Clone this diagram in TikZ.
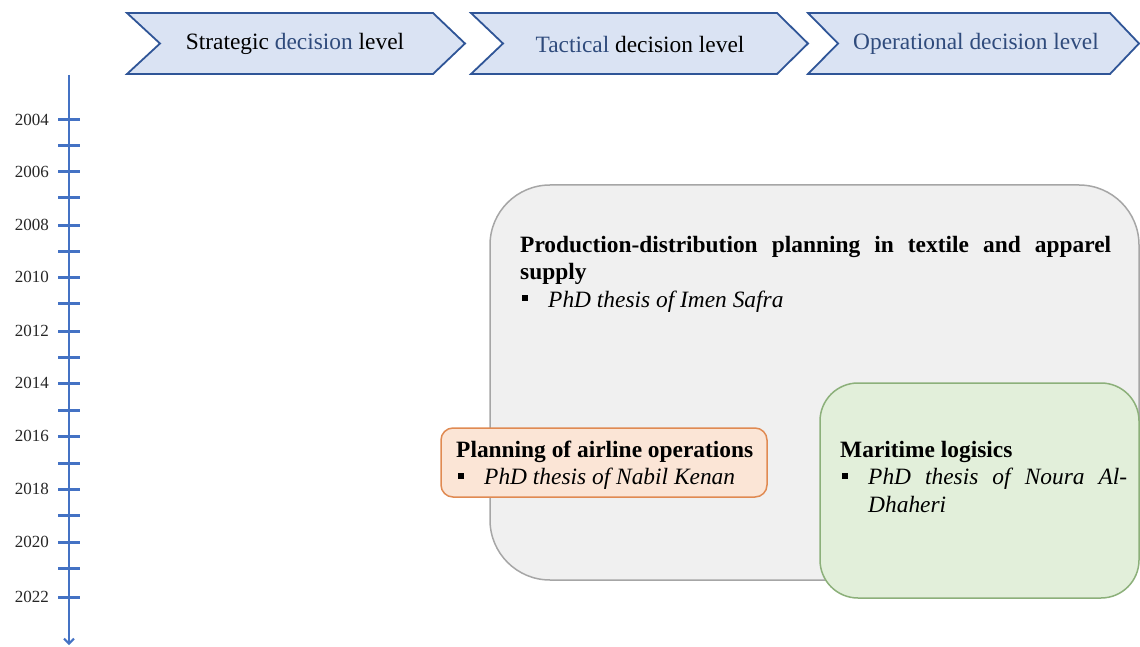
\documentclass[tikz,border=0pt]{standalone}
\usepackage{fontspec}
\setmainfont{Liberation Serif}
\usetikzlibrary{arrows.meta}
\definecolor{chevfill}{HTML}{DAE3F3}
\definecolor{chevline}{HTML}{2F5597}
\definecolor{dblue}{HTML}{2F4B7C}
\definecolor{axiscol}{HTML}{4472C4}
\definecolor{grayfill}{HTML}{F0F0F0}
\definecolor{grayline}{HTML}{A6A6A6}
\definecolor{orfill}{HTML}{FBE5D6}
\definecolor{orline}{HTML}{E08A52}
\definecolor{grfill}{HTML}{E2EFDA}
\definecolor{grline}{HTML}{8CB07A}
\newcommand\sqbul{\makebox[28pt][l]{\hspace{2pt}\raisebox{6pt}{\rule{6pt}{6pt}}}}
\newcommand\bodyfnt{\fontsize{23.4}{27.5}\selectfont}
\begin{document}
\begin{tikzpicture}[x=1pt,y=-1pt,
  chev/.style={fill=chevfill, draw=chevline, line width=1.8pt, line join=miter},
  chevtext/.style={inner sep=0pt, font=\bodyfnt, anchor=center},
  yearlab/.style={anchor=east, inner sep=0pt, font=\fontsize{17}{20}\selectfont, text=black!85},
  tick/.style={draw=axiscol, line width=3pt},
  boxtext/.style={anchor=north west, inner sep=0pt, align=justify, font=\bodyfnt}]
\useasboundingbox (0,0) rectangle (1140,647);

% chevrons
\draw[chev] (127,13) -- (433,13) -- (465,43.5) -- (433,74) -- (127,74) -- (160,43.5) -- cycle;
\draw[chev] (471,13) -- (777,13) -- (808,43.5) -- (777,74) -- (471,74) -- (503,43.5) -- cycle;
\draw[chev] (808,13) -- (1110,13) -- (1139,43.5) -- (1110,74) -- (808,74) -- (838,43.5) -- cycle;
\node[chevtext] (strat) at (295,44) {Strategic \textcolor{dblue}{decision} level};
\node[chevtext] (tact) at (640,44) {\textcolor{dblue}{Tactical} decision level};
\node[chevtext, text=dblue] (oper) at (976,44) {Operational decision level};

% timeline
\coordinate (axtop) at (69,75);
\coordinate (axbot) at (69,645);
\draw[axiscol, line width=2pt, -{Straight Barb[length=5pt,width=10pt]}] (axtop) -- (axbot);
\foreach \yy in {120,146,172,198,225,251,277,303,331,357,383,410,436,463,489,515,542,568,597}
  \draw[tick] (58,\yy) -- (80,\yy);
\foreach \yr/\yy in {2004/120,2006/172,2008/225,2010/277,2012/331,2014/383,2016/436,2018/489,2020/542,2022/597}
  \node[yearlab] (y\yr) at (49,\yy) {\yr};

% boxes
\draw[fill=grayfill, draw=grayline, line width=1.5pt, rounded corners=60pt] (490,185) rectangle (1139,580);
\draw[fill=orfill, draw=orline, line width=1.5pt, rounded corners=12pt] (441,428) rectangle (767,497);
\draw[fill=grfill, draw=grline, line width=1.5pt, rounded corners=38pt] (820,383) rectangle (1139,598);

\node[boxtext, text width=591pt] (prod) at (520,234) {\rule{0pt}{18pt}\textbf{Production-distribution planning in textile and apparel\linebreak supply}\par
\noindent\sqbul\textit{PhD thesis of Imen Safra}\par};

\node[boxtext, text width=300pt] (air) at (456,439) {\rule{0pt}{18pt}\textbf{Planning of airline operations}\par
\noindent\sqbul\textit{PhD thesis of Nabil Kenan}\par};

\node[boxtext, text width=287pt] (mar) at (840,439) {\rule{0pt}{18pt}\textbf{Maritime logisics}\par
\noindent\hangindent=28pt\hangafter=1\sqbul\textit{PhD thesis of Noura Al-\linebreak Dhaheri}\par};
\end{tikzpicture}
\end{document}
